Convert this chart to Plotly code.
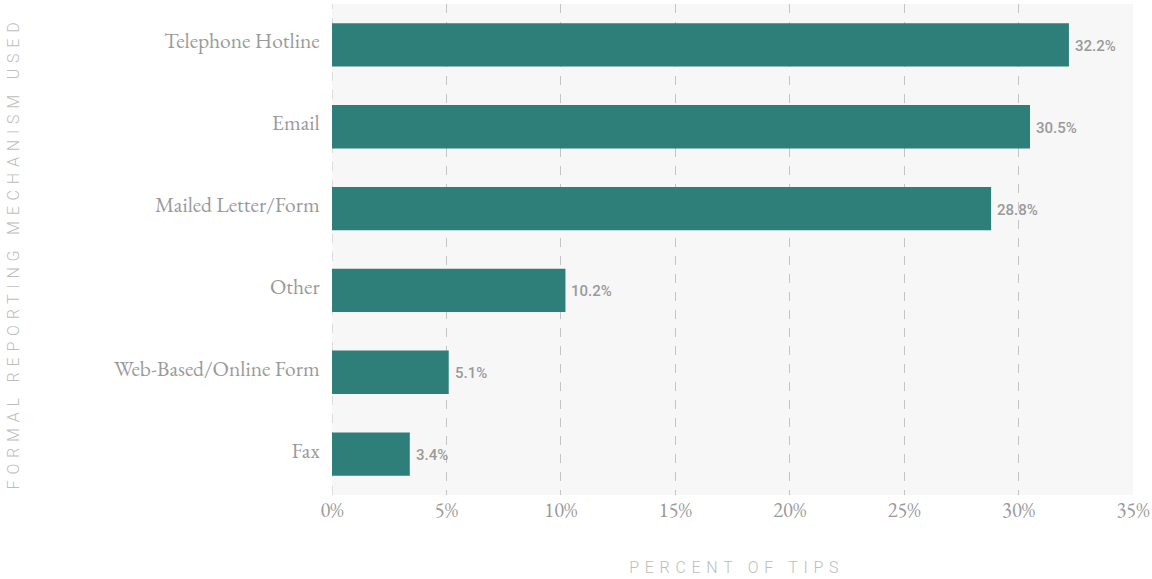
import plotly.graph_objects as go

# Share of tips by formal reporting mechanism
mechanisms = ["Telephone Hotline", "Email", "Mailed Letter/Form", "Other",
              "Web-Based/Online Form", "Fax"]
percent_of_tips = [32.2, 30.5, 28.8, 10.2, 5.1, 3.4]
x_ticks = [0, 5, 10, 15, 20, 25, 30, 35]
x_tick_labels = ["0%", "5%", "10%", "15%", "20%", "25%", "30%", "35%"]

BAR_COLOR = "#2e7f79"
GRID_COLOR = "#c4c4c4"
LABEL_GRAY = "#9a9a9a"
TITLE_GRAY = "#bdbdbd"
SERIF = "EB Garamond, Garamond, Liberation Serif, serif"

ML, MR, MT, MB = 332, 19, 4, 84
PLOT_W = 1152 - ML - MR
PLOT_H = 579 - MT - MB

fig = go.Figure(
    go.Bar(
        x=percent_of_tips,
        y=mechanisms,
        orientation="h",
        marker=dict(color=BAR_COLOR, line=dict(width=0)),
        hoverinfo="skip",
    )
)

# Value labels just past the end of each bar
for name, value in zip(mechanisms, percent_of_tips):
    fig.add_annotation(
        x=value, y=name, xref="x", yref="y",
        text=f"{value:.1f}%",
        showarrow=False,
        xanchor="left",
        yanchor="middle",
        xshift=4,
        yshift=-1,
        font=dict(family="Roboto", size=15, color=LABEL_GRAY, weight=500),
    )

fig.update_layout(
    width=1152,
    height=579,
    margin=dict(l=ML, r=MR, t=MT, b=MB),
    paper_bgcolor="white",
    plot_bgcolor="#f7f7f7",
    bargap=0.47,
    showlegend=False,
    xaxis=dict(
        range=[0, 35],
        tickvals=x_ticks,
        ticktext=x_tick_labels,
        tickfont=dict(family=SERIF, size=20.5, color=LABEL_GRAY),
        showgrid=True,
        gridcolor=GRID_COLOR,
        griddash="dash",
        gridwidth=1,
        zeroline=False,
        showline=False,
        ticks="",
        ticklabelstandoff=0,
        automargin=False,
    ),
    yaxis=dict(
        categoryorder="array",
        categoryarray=mechanisms[::-1],
        range=[-0.5, 5.5],
        tickfont=dict(family=SERIF, size=21.5, color=LABEL_GRAY),
        ticks="outside",
        ticklen=7,
        tickcolor="rgba(0,0,0,0)",
        ticklabelshift=-4,
        showgrid=False,
        zeroline=False,
        showline=False,
        automargin=False,
    ),
)

TITLE_FONT = dict(family="Roboto", size=16, color=TITLE_GRAY, weight=300)

# Axis titles, placed in the margins
fig.add_annotation(
    text="FORMAL REPORTING MECHANISM USED",
    xref="paper", yref="paper",
    x=(13 - ML) / PLOT_W, y=0.5,
    yshift=-4,
    textangle=-90,
    showarrow=False,
    xanchor="center", yanchor="middle",
    font=TITLE_FONT,
)
fig.add_annotation(
    text="PERCENT OF TIPS",
    xref="paper", yref="paper",
    x=(736 - ML) / PLOT_W, y=-(567 - MT - PLOT_H) / PLOT_H,
    showarrow=False,
    xanchor="center", yanchor="middle",
    font=TITLE_FONT,
)

# Draw the 0% gridline as dashed too, matching the other verticals
fig.add_shape(
    type="line", xref="x", yref="paper", x0=0, x1=0, y0=0, y1=1,
    line=dict(color=GRID_COLOR, width=1, dash="dash"), layer="below",
)

# Wide letter spacing on the axis titles
post = """
var gd = document.querySelector('.plotly-graph-div');
function spaceTitles() {
  gd.querySelectorAll('.annotation-text').forEach(function (t) {
    var s = t.textContent;
    if (s.indexOf('FORMAL') === 0) { t.style.letterSpacing = '5.8px'; }
    if (s.indexOf('PERCENT') === 0) { t.style.letterSpacing = '5.7px'; }
  });
}
spaceTitles();
gd.on('plotly_afterplot', spaceTitles);
"""

fig.write_html("out.html", post_script=post, config={"displayModeBar": False})
